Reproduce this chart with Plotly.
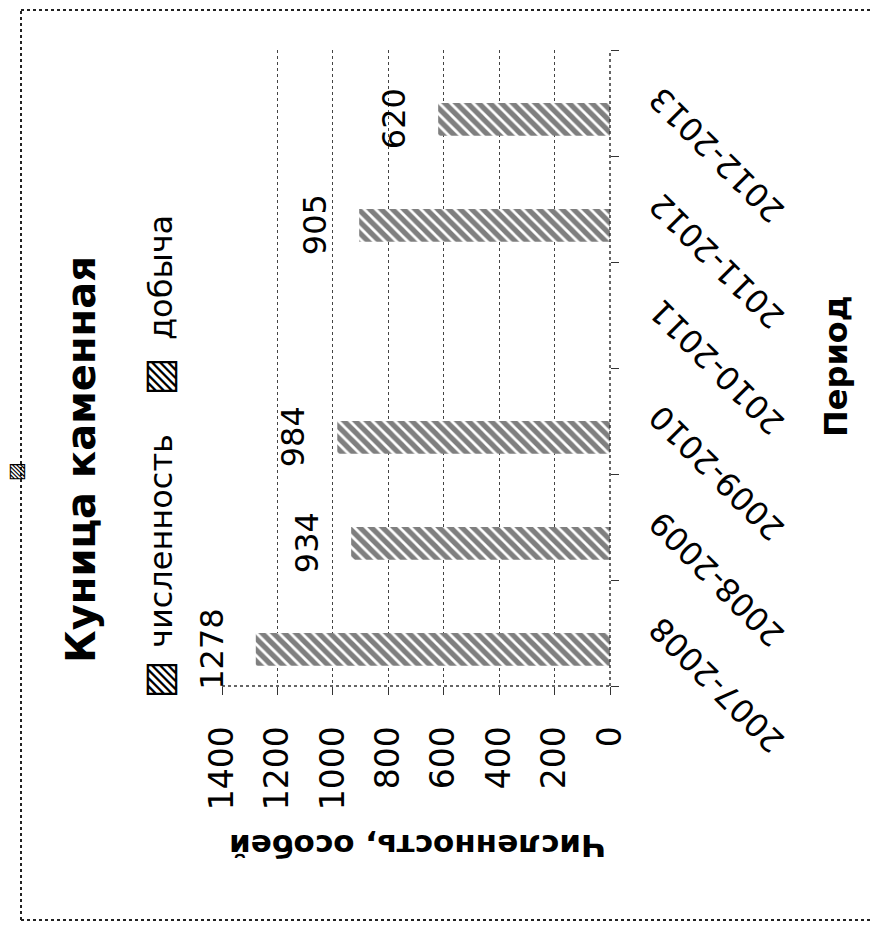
import plotly.graph_objects as go

# Data
periods = ['2007-2008', '2008-2009', '2009-2010', '2010-2011', '2011-2012', '2012-2013']
chislennost = [1278, 934, 984, None, 905, 620]
dobycha = [None, None, None, None, None, None]
value_ticks = [0, 200, 400, 600, 800, 1000, 1200, 1400]

FONT = 'DejaVu Sans'
W, H = 881, 933
OFF = 8  # page body margin
# plot area in pixels (reference coordinates)
PX0, PX1, PY0, PY1 = 222, 610, 50, 686
FIG_W, FIG_H = W - 2 * OFF, H - 2 * OFF


def px(x):
    return (x - PX0) / (PX1 - PX0)


def py(y):
    return (PY1 - y) / (PY1 - PY0)


hatch = dict(shape='\\', fgcolor='black', bgcolor='white', size=8, solidity=0.65)

fig = go.Figure()
fig.add_trace(go.Bar(y=periods, x=chislennost, name='численность', orientation='h',
                     marker=dict(color='white', pattern=hatch, line=dict(width=0))))
fig.add_trace(go.Bar(y=periods, x=dobycha, name='добыча', orientation='h',
                     marker=dict(color='white', pattern=hatch, line=dict(width=0))))

annotations = []
# data labels
for p, v in zip(periods, chislennost):
    if v is None:
        continue
    annotations.append(dict(x=v, y=p, xref='x', yref='y', text=str(v),
                            textangle=-90, xshift=-44, yshift=-16,
                            font=dict(family=FONT, size=32, color='black')))
# category labels, upside down like the reference
for p in periods:
    annotations.append(dict(x=1, y=p, xref='paper', yref='y', text=p,
                            textangle=-135, xshift=107, yshift=-52,
                            font=dict(family=FONT, size=32, color='black')))

# title, legend, axis titles (chart is turned on its side)
annotations += [
    dict(x=px(81), y=py(460), text='<b>Куница каменная</b>', textangle=-90,
         font=dict(family=FONT, size=40, color='black')),
    dict(x=px(161), y=py(541), text='численность', textangle=-90,
         font=dict(family=FONT, size=32, color='black')),
    dict(x=px(162), y=py(676), text='▧', font=dict(family=FONT, size=40, color='black')),
    dict(x=px(161), y=py(278), text='добыча', textangle=-90,
         font=dict(family=FONT, size=32, color='black')),
    dict(x=px(162), y=py(373), text='▧', font=dict(family=FONT, size=40, color='black')),
    dict(x=px(418), y=py(846), text='<b>Численность, особей</b>', textangle=180,
         font=dict(family=FONT, size=31, color='black')),
    dict(x=px(836), y=py(366), text='<b>Период</b>', textangle=-90,
         font=dict(family=FONT, size=32, color='black')),
    dict(x=px(17), y=py(470), text='▧', font=dict(family=FONT, size=20, color='black')),
]
for a in annotations:
    a.setdefault('xref', 'paper')
    a.setdefault('yref', 'paper')
    a['showarrow'] = False
    a['xanchor'] = 'center'
    a['yanchor'] = 'middle'

dot = dict(color='#333', width=1.5, dash='dot')
border = dict(color='#222', width=2, dash='dot')
shapes = [
    # axis lines
    dict(type='line', xref='paper', yref='paper', x0=0, x1=1, y0=0, y1=0, line=dot),
    dict(type='line', xref='paper', yref='paper', x0=1, x1=1, y0=0, y1=1, line=dot),
    # outer border: left, top and bottom edges (right edge is cut off)
    dict(type='line', xref='paper', yref='paper', x0=px(21), x1=px(21), y0=py(920), y1=py(10), line=border),
    dict(type='line', xref='paper', yref='paper', x0=px(21), x1=px(900), y0=py(10), y1=py(10), line=border),
    dict(type='line', xref='paper', yref='paper', x0=px(21), x1=px(900), y0=py(920), y1=py(920), line=border),
]

fig.update_layout(
    width=FIG_W, height=FIG_H,
    margin=dict(l=PX0 - OFF, r=FIG_W - (PX1 - OFF), t=PY0 - OFF, b=FIG_H - (PY1 - OFF),
                autoexpand=False),
    paper_bgcolor='white', plot_bgcolor='white',
    barmode='group', bargap=0.38, bargroupgap=0,
    showlegend=False,
    font=dict(family=FONT, size=32, color='black'),
    annotations=annotations, shapes=shapes,
    xaxis=dict(range=[1400, 0], tickvals=value_ticks, tickangle=-90,
               ticks='outside', ticklen=8, tickcolor='#333',
               showgrid=True, gridcolor='#444', griddash='dot', gridwidth=1,
               zeroline=False, showline=False, ticklabelstandoff=18, automargin=False,
               tickfont=dict(family=FONT, size=33, color='black')),
    yaxis=dict(type='category', categoryorder='array', categoryarray=periods,
               range=[-0.5, 5.5], side='right', tickson='boundaries', showticklabels=False,
               ticks='outside', ticklen=8, tickcolor='#333', automargin=False,
               showgrid=False, zeroline=False, showline=False),
)

fig.write_html("out.html")
